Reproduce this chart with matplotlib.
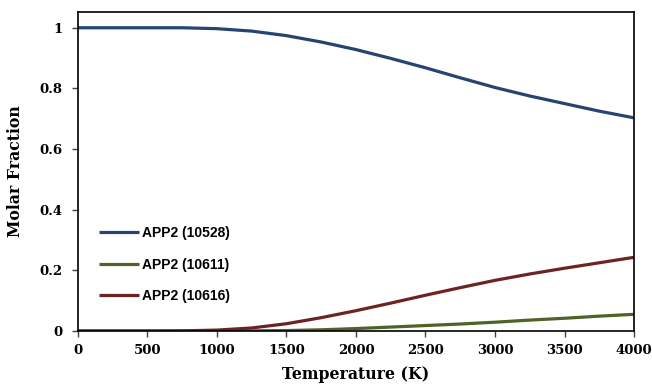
import numpy as np
import matplotlib
matplotlib.use('Agg')
import matplotlib.pyplot as plt

# temperature grid (K) and molar fractions of each species
temperature = [0, 250, 500, 750, 1000, 1250, 1500, 1750, 2000,
               2250, 2500, 2750, 3000, 3250, 3500, 3750, 4000]
frac_10528 = [1.0, 1.0, 1.0, 1.0, 0.997, 0.989, 0.974, 0.953, 0.928,
              0.899, 0.868, 0.835, 0.803, 0.775, 0.750, 0.725, 0.703]
frac_10611 = [0.0, 0.0, 0.0, 0.0, 0.0, 0.0005, 0.0015, 0.004, 0.008,
              0.013, 0.018, 0.023, 0.029, 0.036, 0.042, 0.049, 0.055]
frac_10616 = [0.0, 0.0, 0.0, 0.0005, 0.003, 0.010, 0.024, 0.044, 0.067,
              0.092, 0.118, 0.143, 0.167, 0.188, 0.207, 0.225, 0.243]

labels = ['APP2 (10528)', 'APP2 (10611)', 'APP2 (10616)']
colors = ['#254470', '#4f6228', '#6e2323']
xticks = [0, 500, 1000, 1500, 2000, 2500, 3000, 3500, 4000]
yticks = [0, 0.2, 0.4, 0.6, 0.8, 1.0]
ytick_labels = ['0', '0.2', '0.4', '0.6', '0.8', '1']

fig = plt.figure(figsize=(6.52, 3.87), dpi=100)
ax = fig.add_axes([0.1196, 0.1447, 0.8528, 0.8243])

for ys, lab, c in zip([frac_10528, frac_10611, frac_10616], labels, colors):
    ax.plot(temperature, ys, color=c, linewidth=2.3, label=lab,
            solid_capstyle='butt', solid_joinstyle='round')

ax.set_xlim(0, 4000)
ax.set_ylim(0, 1.052)
ax.set_xticks(xticks)
ax.set_yticks(yticks)
ax.set_yticklabels(ytick_labels)

for t in ax.get_xticklabels() + ax.get_yticklabels():
    t.set_fontfamily('DejaVu Serif')
    t.set_fontweight('bold')
    t.set_fontsize(9.5)
ax.tick_params(axis='both', direction='out', length=4, width=1, color='#404040')
ax.tick_params(axis='x', pad=5)
ax.tick_params(axis='y', pad=7)

for s in ax.spines.values():
    s.set_color('black')
    s.set_linewidth(1.2)

ax.set_xlabel('Temperature (K)', family='DejaVu Serif', weight='bold', size=11.3, labelpad=7)
ax.set_ylabel('Molar Fraction', family='DejaVu Serif', weight='bold', size=11.3, labelpad=11)

leg = ax.legend(loc='lower left', bbox_to_anchor=(0.015, 0.048), frameon=False,
                prop=dict(family='Liberation Sans', weight='bold', size=10),
                handlelength=2.9, handletextpad=0.2, labelspacing=1.26)

fig.savefig('out.png', dpi=100)
